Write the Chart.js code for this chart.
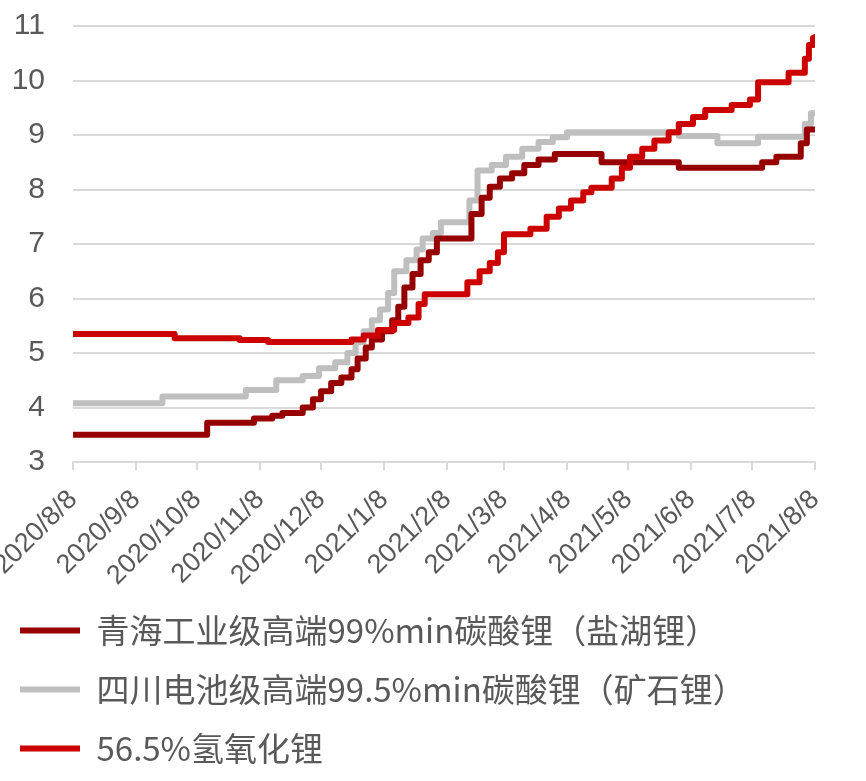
<!DOCTYPE html>
<html>
<head>
<meta charset="utf-8">
<script src="https://cdn.jsdelivr.net/npm/chart.js@4/dist/chart.umd.min.js"></script>
<style>
	html, body { margin: 0; padding: 0; background: #fff; }
	#wrap { width: 866px; height: 781px; }
</style>
</head>
<body>
<div id="wrap"><canvas id="lithiumChart"></canvas></div>
<script>
// x axis: monthly ticks
var tickDates = ["2020/8/8", "2020/9/8", "2020/10/8", "2020/11/8", "2020/12/8", "2021/1/8", "2021/2/8",
	"2021/3/8", "2021/4/8", "2021/5/8", "2021/6/8", "2021/7/8", "2021/8/8"];

var seriesNames = ["青海工业级高端99%min碳酸锂（盐湖锂）", "四川电池级高端99.5%min碳酸锂（矿石锂）", "56.5%氢氧化锂"];

// 青海工业级 (change dates / prices, 万元/吨)
var qhDates = ["2020/8/8", "2020/10/13", "2020/11/5", "2020/11/14", "2020/11/19", "2020/11/29", "2020/12/4",
	"2020/12/8", "2020/12/13", "2020/12/18", "2020/12/23", "2020/12/26", "2020/12/30", "2021/1/2", "2021/1/7",
	"2021/1/12", "2021/1/15", "2021/1/18", "2021/1/22", "2021/1/26", "2021/1/30", "2021/2/3", "2021/2/20",
	"2021/2/25", "2021/3/1", "2021/3/6", "2021/3/12", "2021/3/18", "2021/3/25", "2021/4/2", "2021/4/25",
	"2021/6/2", "2021/7/13", "2021/7/20", "2021/8/1", "2021/8/4", "2021/8/8"];
var qhValues = [3.5, 3.72, 3.8, 3.85, 3.9, 4.0, 4.15,
	4.3, 4.45, 4.55, 4.7, 4.9, 5.1, 5.25, 5.4,
	5.6, 5.85, 6.2, 6.45, 6.7, 6.85, 7.1, 7.55,
	7.85, 8.05, 8.2, 8.3, 8.45, 8.55, 8.65, 8.5,
	8.4, 8.5, 8.6, 8.85, 9.1, 9.1];

// 四川电池级
var scDates = ["2020/8/8", "2020/9/21", "2020/11/1", "2020/11/16", "2020/11/29", "2020/12/7", "2020/12/15",
	"2020/12/21", "2020/12/25", "2020/12/29", "2021/1/2", "2021/1/6", "2021/1/10", "2021/1/13", "2021/1/19",
	"2021/1/24", "2021/1/27", "2021/2/1", "2021/2/5", "2021/2/19", "2021/2/23", "2021/3/2", "2021/3/9",
	"2021/3/17", "2021/3/25", "2021/4/1", "2021/4/8", "2021/6/2", "2021/6/21", "2021/7/11", "2021/8/3",
	"2021/8/6", "2021/8/8"];
var scValues = [4.08, 4.2, 4.32, 4.5, 4.58, 4.72, 4.83,
	5.0, 5.2, 5.4, 5.6, 5.8, 6.1, 6.5, 6.7,
	6.9, 7.1, 7.2, 7.4, 7.8, 8.35, 8.45, 8.6,
	8.75, 8.87, 8.96, 9.05, 8.98, 8.85, 8.97, 9.2,
	9.4, 9.4];

// 氢氧化锂
var lohDates = ["2020/8/8", "2020/9/27", "2020/10/29", "2020/11/12", "2020/12/23", "2020/12/29", "2021/1/5",
	"2021/1/13", "2021/1/20", "2021/1/25", "2021/1/28", "2021/2/18", "2021/2/24", "2021/3/1", "2021/3/5",
	"2021/3/8", "2021/3/21", "2021/3/29", "2021/4/4", "2021/4/10", "2021/4/16", "2021/4/20", "2021/4/30",
	"2021/5/5", "2021/5/9", "2021/5/15", "2021/5/21", "2021/5/28", "2021/6/2", "2021/6/9", "2021/6/15",
	"2021/6/28", "2021/7/7", "2021/7/11", "2021/7/26", "2021/8/3", "2021/8/5", "2021/8/7", "2021/8/8"];
var lohValues = [5.35, 5.27, 5.24, 5.2, 5.25, 5.32, 5.42,
	5.55, 5.65, 5.9, 6.08, 6.3, 6.5, 6.65, 6.85,
	7.18, 7.28, 7.5, 7.65, 7.8, 7.95, 8.03, 8.2,
	8.4, 8.6, 8.75, 8.9, 9.05, 9.2, 9.33, 9.46,
	9.55, 9.65, 9.97, 10.14, 10.4, 10.65, 10.78, 10.8];

var startDate = tickDates[0];

function dayOf(str) {
	var p = str.split("/");
	var s = startDate.split("/");
	var t = Date.UTC(+p[0], +p[1] - 1, +p[2]);
	var t0 = Date.UTC(+s[0], +s[1] - 1, +s[2]);
	return Math.round((t - t0) / 86400000);
}

function toPoints(dates, values) {
	return dates.map(function (d, i) {
		return { x: dayOf(d), y: values[i] };
	});
}

var tickDays = tickDates.map(dayOf);

var color = {
	darkRed: "#960000",
	grey: "#BFBFBF",
	red: "#CC0000",
	text: "#595959",
	grid: "#D9D9D9"
};

function lineSet(label, pts, c, order) {
	return {
		label: label,
		data: pts,
		borderColor: c,
		backgroundColor: c,
		borderWidth: 6,
		borderCapStyle: "round",
		borderJoinStyle: "round",
		stepped: true,
		pointRadius: 0,
		order: order
	};
}

var ctx = document.getElementById("lithiumChart").getContext("2d");
var lithiumChart = new Chart(ctx, {
	type: "line",
	data: {
		datasets: [
			lineSet(seriesNames[0], toPoints(qhDates, qhValues), color.darkRed, 1),
			lineSet(seriesNames[1], toPoints(scDates, scValues), color.grey, 2),
			lineSet(seriesNames[2], toPoints(lohDates, lohValues), color.red, 0)
		]
	},
	options: {
		responsive: true,
		maintainAspectRatio: false,
		animation: false,
		layout: {
			padding: { top: 26, left: -6, right: 51, bottom: 6 }
		},
		plugins: {
			tooltip: { enabled: false },
			legend: {
				position: "bottom",
				align: "start",
				labels: {
					usePointStyle: true,
					pointStyle: "line",
					pointStyleWidth: 60,
					padding: 26,
					color: color.text,
					font: { family: "'Noto Sans CJK SC', 'Noto Sans', sans-serif", size: 33 },
					sort: function (a, b) {
						return a.datasetIndex - b.datasetIndex;
					}
				}
			}
		},
		scales: {
			x: {
				type: "linear",
				min: 0,
				max: tickDays[tickDays.length - 1],
				afterBuildTicks: function (scale) {
					scale.ticks = tickDays.map(function (v) {
						return { value: v };
					});
				},
				afterFit: function (scale) {
					scale.height = 126;
					scale.paddingLeft = 0;
					scale.paddingRight = 0;
					scale.paddingTop = 0;
				},
				grid: {
					drawOnChartArea: false,
					drawTicks: true,
					tickLength: 8,
					color: color.grid,
					lineWidth: 2
				},
				border: { color: color.grid, width: 2 },
				ticks: {
					autoSkip: false,
					minRotation: 45,
					maxRotation: 45,
					padding: 14,
					color: color.text,
					font: { family: "'Liberation Sans', Arial, sans-serif", size: 27 },
					callback: function (value, index) {
						return tickDates[index];
					}
				}
			},
			y: {
				min: 3,
				max: 11,
				afterFit: function (scale) {
					scale.width = 79;
					scale.paddingTop = 0;
					scale.paddingBottom = 0;
				},
				grid: {
					color: color.grid,
					lineWidth: 2,
					drawTicks: false
				},
				border: { display: false },
				ticks: {
					stepSize: 1,
					padding: 28,
					color: color.text,
					font: { family: "'Liberation Sans', Arial, sans-serif", size: 30 }
				}
			}
		}
	}
});
</script>
</body>
</html>
